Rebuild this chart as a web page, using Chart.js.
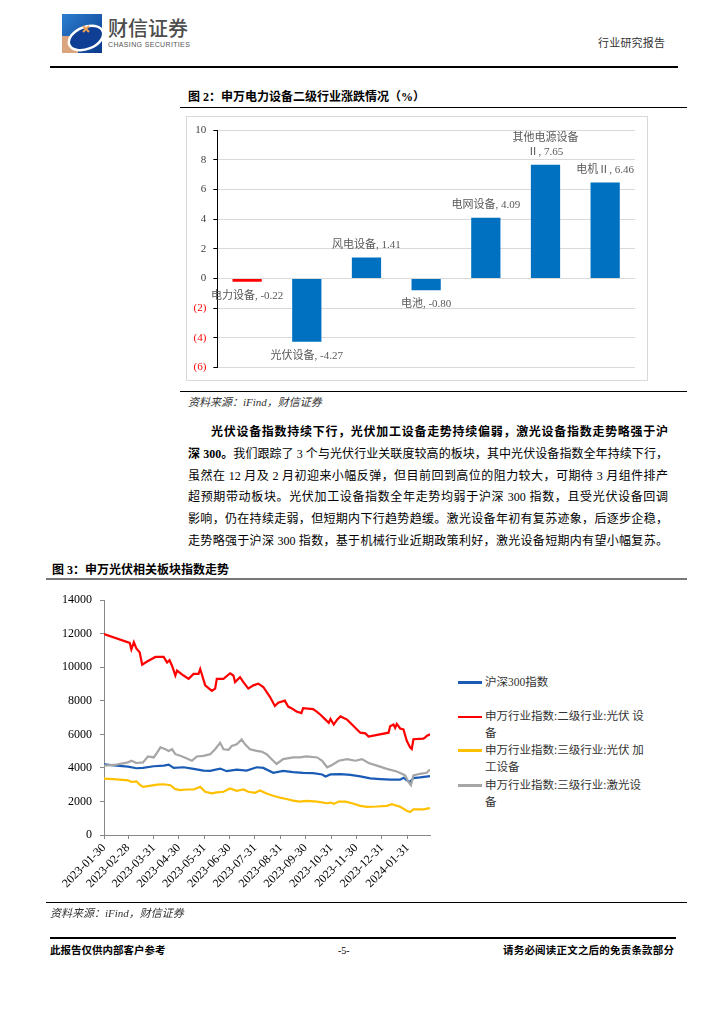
<!DOCTYPE html>
<html><head><meta charset="utf-8">
<script src="https://cdn.jsdelivr.net/npm/chart.js@4.4.1/dist/chart.umd.min.js"></script>
<style>
html,body{margin:0;padding:0;background:#fff;}
body{width:724px;height:1024px;position:relative;overflow:hidden;font-family:"Liberation Serif","Noto Sans CJK SC",serif;color:#000;}
.a{position:absolute;white-space:nowrap;}
.rule{position:absolute;height:0;}
.para{position:absolute;left:188px;width:480px;font-size:12px;line-height:21.9px;text-align:justify;text-align-last:justify;white-space:nowrap;}
.leg{position:absolute;left:458px;font-size:11.5px;line-height:17px;color:#333;}
.leg i{position:absolute;left:0;top:7.5px;width:24px;height:2.5px;}
.leg span{position:absolute;left:27px;top:0;white-space:nowrap;}
</style></head>
<body>
<!-- header -->
<svg class="a" style="left:62px;top:14px" width="40" height="39" viewBox="0 0 40 39">
<defs><linearGradient id="g" x1="0" y1="0" x2="1" y2="1"><stop offset="0" stop-color="#2c7ed0"/><stop offset="1" stop-color="#0c3a8c"/></linearGradient></defs>
<rect width="40" height="39" fill="url(#g)"/>
<rect x="0" y="22" width="16" height="17" fill="#d9a47e"/>
<ellipse cx="24" cy="24" rx="18" ry="11" transform="rotate(-22 24 24)" fill="#0f3f95" stroke="#fff" stroke-width="2.5"/>
<path d="M21 12 l6 6 M27 12 l-6 6" stroke="#f0a050" stroke-width="2"/>
</svg>
<div class="a" style="left:108px;top:15px;font-family:'Noto Sans CJK SC';font-size:20px;line-height:26px;color:#4d4d4d;font-weight:500">财信证券</div>
<div class="a" style="left:108px;top:40px;font-family:'Liberation Sans';font-size:7px;line-height:9px;color:#555;letter-spacing:0.35px">CHASING SECURITIES</div>
<div class="a" style="left:598px;top:35px;font-size:11px;line-height:16px;color:#333;letter-spacing:0.2px">行业研究报告</div>
<div class="rule" style="left:50px;width:628px;top:65.5px;border-top:2px solid #000"></div>

<!-- figure 2 -->
<div class="a" style="left:188px;top:89px;font-size:12px;line-height:16px;font-weight:700">图 2：申万电力设备二级行业涨跌情况（%）</div>
<div class="rule" style="left:180px;width:507px;top:107px;border-top:1.5px solid #000"></div>
<div class="a" style="left:186px;top:116px;width:460px;height:263px;border:1px solid #d9d9d9"></div>
<div class="a" style="left:186px;top:116px;width:462px;height:265px"><canvas id="bar"></canvas></div>
<div class="rule" style="left:180px;width:507px;top:391px;border-top:1px solid #000"></div>
<div class="a" style="left:188px;top:394px;font-size:11px;line-height:16px;font-style:italic;color:#333">资料来源：iFind，财信证券</div>

<!-- paragraph -->
<div class="para" style="top:421.7px;left:211px;width:457px;font-weight:700">光伏设备指数持续下行，光伏加工设备走势持续偏弱，激光设备指数走势略强于沪</div>
<div class="para" style="top:443.6px"><b>深 300。</b>我们跟踪了 3 个与光伏行业关联度较高的板块，其中光伏设备指数全年持续下行，</div>
<div class="para" style="top:465.5px">虽然在 12 月及 2 月初迎来小幅反弹，但目前回到高位的阻力较大，可期待 3 月组件排产</div>
<div class="para" style="top:487.4px">超预期带动板块。光伏加工设备指数全年走势均弱于沪深 300 指数，且受光伏设备回调</div>
<div class="para" style="top:509.3px">影响，仍在持续走弱，但短期内下行趋势趋缓。激光设备年初有复苏迹象，后逐步企稳，</div>
<div class="para" style="top:531.2px">走势略强于沪深 300 指数，基于机械行业近期政策利好，激光设备短期内有望小幅复苏。</div>

<!-- figure 3 -->
<div class="a" style="left:52px;top:562px;font-size:12px;line-height:16px;font-weight:700">图 3：申万光伏相关板块指数走势</div>
<div class="rule" style="left:46px;width:641px;top:578px;border-top:2px solid #777"></div>
<div class="a" style="left:40px;top:585px;width:400px;height:320px"><canvas id="line"></canvas></div>
<div class="leg" style="top:673.5px"><i style="background:#1a5bb5"></i><span>沪深300指数</span></div>
<div class="leg" style="top:708px"><i style="background:#ff0000"></i><span>申万行业指数:二级行业:光伏 设<br>备</span></div>
<div class="leg" style="top:741.5px"><i style="background:#ffc000"></i><span>申万行业指数:三级行业:光伏 加<br>工设备</span></div>
<div class="leg" style="top:776.5px"><i style="background:#a6a6a6"></i><span>申万行业指数:三级行业:激光设<br>备</span></div>
<div class="rule" style="left:46px;width:641px;top:901.5px;border-top:1.5px solid #000"></div>
<div class="a" style="left:50px;top:905px;font-size:11px;line-height:16px;font-style:italic;color:#333">资料来源：iFind，财信证券</div>

<!-- footer -->
<div class="rule" style="left:50px;width:626px;top:937px;border-top:2px solid #000"></div>
<div class="a" style="left:50px;top:944px;font-size:10.5px;line-height:14px;font-weight:700">此报告仅供内部客户参考</div>
<div class="a" style="left:338px;top:944px;font-size:10px;line-height:14px">-5-</div>
<div class="a" style="left:503px;top:944px;font-size:10.5px;line-height:14px;font-weight:700;letter-spacing:0.2px">请务必阅读正文之后的免责条款部分</div>

<script>
// ---- Figure 2 data ----
const barCategories = ['电力设备','光伏设备','风电设备','电池','电网设备','其他电源设备Ⅱ','电机Ⅱ'];
const barValues = [-0.22, -4.27, 1.41, -0.80, 4.09, 7.65, 6.46];
const barColors = ['#FF0000','#0070C0','#0070C0','#0070C0','#0070C0','#0070C0','#0070C0'];
const barAxisMin = -6, barAxisMax = 10, barAxisStep = 2;

// ---- Figure 3 data (day offset from 2023-01-30) ----
const xTickDays = [0,29,60,90,121,151,182,213,243,274,304,335,366];
const xTickLabels = ['2023-01-30','2023-02-28','2023-03-31','2023-04-30','2023-05-31','2023-06-30','2023-07-31','2023-08-31','2023-09-30','2023-10-31','2023-11-30','2023-12-31','2024-01-31'];
const lastDay = 393;
const seriesNames = ['沪深300指数','申万行业指数:二级行业:光伏设备','申万行业指数:三级行业:光伏加工设备','申万行业指数:三级行业:激光设备'];

const hs300Days = [0,15,29,39,47,60,72,78,84,96,108,120,128,140,148,160,172,184,192,204,216,228,240,252,263,267,273,285,297,309,321,333,345,357,361,365,369,373,381,393];
const hs300Vals = [4215,4137,4078,3980,4000,4098,4137,4195,4000,4039,3942,3844,3825,3961,3805,3903,3844,4039,4000,3708,3825,3747,3708,3688,3610,3493,3610,3630,3590,3493,3376,3337,3298,3298,3415,3259,3162,3396,3435,3513];

const pvDays = [0,31,33,36,39,43,46,52,62,72,76,79,82,86,88,96,102,108,114,116,122,130,134,136,144,152,156,158,164,168,174,180,186,192,196,200,206,210,218,222,226,232,238,240,252,256,261,267,271,273,277,281,285,289,293,299,305,309,315,319,343,345,349,351,353,357,361,365,369,371,373,385,387,389,393];
const pvVals = [11980,11455,11065,11500,11120,10890,10150,10345,10618,10618,10287,10423,10092,9508,9800,9508,9313,9605,9605,9897,8924,8593,8729,9313,9313,9644,9508,9118,9410,9118,8729,8924,9021,8826,8534,8242,7697,7892,8009,7658,7561,7366,7269,7561,7503,7366,7171,6879,6684,6918,6587,6879,7074,6977,6879,6587,6295,6100,6061,5866,6100,6490,6587,6392,6626,6353,6295,5613,5224,5127,5711,5750,5808,5905,6003];

const pvProcDays = [0,15,29,33,39,43,47,55,64,72,80,86,92,100,108,116,122,130,136,144,152,160,168,174,182,188,196,204,212,220,228,236,244,257,269,273,277,283,291,299,309,317,329,341,347,357,365,369,373,385,393];
const pvProcVals = [3357,3318,3259,3162,3201,3006,2870,2928,3006,3025,2967,2733,2674,2713,2713,2870,2577,2479,2538,2577,2772,2635,2713,2577,2518,2655,2479,2343,2226,2148,2050,1992,2031,1992,1894,1933,1855,1992,1992,1894,1738,1680,1699,1738,1836,1680,1446,1368,1524,1524,1602];

const laserDays = [0,15,29,33,39,47,53,60,64,68,74,78,82,86,92,100,106,112,120,128,134,140,144,150,154,160,166,170,176,184,190,196,204,208,216,228,236,244,257,263,269,275,283,293,303,311,319,329,341,353,359,363,367,370,373,381,389,393];
const laserVals = [4137,4195,4332,4429,4293,4332,4683,4624,4917,5229,5112,5014,5112,4819,4722,4566,4429,4683,4722,4819,5112,5502,5112,5073,5307,5404,5700,5404,5112,5014,4975,4819,4429,4234,4527,4624,4624,4683,4624,4429,4039,4176,4429,4527,4429,4527,4293,4137,3942,3786,3649,3552,3162,2967,3552,3649,3708,3903];

Chart.defaults.font.family = '"Liberation Serif","Noto Sans CJK SC",serif';
Chart.defaults.animation = false;

const barLabelPlugin = {
  id: 'barLabels',
  afterDatasetsDraw(chart) {
    const ctx = chart.ctx;
    const meta = chart.getDatasetMeta(0);
    ctx.save();
    ctx.font = '11px "Liberation Serif","Noto Sans CJK SC",serif';
    ctx.fillStyle = '#595959';
    ctx.textAlign = 'center';
    ctx.textBaseline = 'middle';
    meta.data.forEach((bar, i) => {
      const v = barValues[i];
      const name = barCategories[i];
      const valTxt = v.toFixed(2);
      const lines = name.length > 5 ? [name.slice(0, 6), name.slice(6) + ', ' + valTxt] : [name + ', ' + valTxt];
      const lh = 14.7;
      if (v >= 0) {
        lines.forEach((l, k) => ctx.fillText(l, bar.x, bar.y - 12.5 - (lines.length - 1 - k) * lh));
      } else {
        lines.forEach((l, k) => ctx.fillText(l, bar.x, bar.y + 14 + k * lh));
      }
    });
    ctx.restore();
  }
};

new Chart(document.getElementById('bar'), {
  type: 'bar',
  data: {
    labels: barCategories,
    datasets: [{ data: barValues, backgroundColor: barColors, borderWidth: 0, barPercentage: 1, categoryPercentage: 0.49 }]
  },
  options: {
    responsive: true, maintainAspectRatio: false,
    layout: { padding: { top: 14, right: 13, bottom: 13.3, left: 0 } },
    plugins: { legend: { display: false }, tooltip: { enabled: false } },
    scales: {
      x: { display: false },
      y: {
        min: barAxisMin, max: barAxisMax,
        afterFit: (s) => { s.width = 31.3; },
        ticks: {
          stepSize: barAxisStep, padding: 7,
          font: { size: 11 },
          color: (c) => (c.tick && c.tick.value < 0) ? '#FF0000' : '#404040',
          callback: (v) => v < 0 ? '(' + (-v) + ')' : String(v)
        },
        grid: { color: '#d9d9d9', tickColor: '#000', tickLength: 4, lineWidth: 1 },
        border: { color: '#000', width: 1 }
      }
    }
  },
  plugins: [barLabelPlugin]
});

function pts(days, vals) { return days.map((d, i) => ({ x: d, y: vals[i] })); }

new Chart(document.getElementById('line'), {
  type: 'line',
  data: {
    datasets: [
      { label: seriesNames[0], data: pts(hs300Days, hs300Vals), borderColor: '#1a5bb5', order: 3 },
      { label: seriesNames[1], data: pts(pvDays, pvVals), borderColor: '#ff0000', order: 2 },
      { label: seriesNames[2], data: pts(pvProcDays, pvProcVals), borderColor: '#ffc000', order: 1 },
      { label: seriesNames[3], data: pts(laserDays, laserVals), borderColor: '#a6a6a6', order: 0 }
    ].map(d => Object.assign(d, { borderWidth: 2.2, pointRadius: 0, tension: 0, fill: false }))
  },
  options: {
    responsive: true, maintainAspectRatio: false,
    layout: { padding: { top: 10, right: 10, left: 0, bottom: 0 } },
    plugins: { legend: { display: false }, tooltip: { enabled: false } },
    scales: {
      x: {
        type: 'linear', min: 0, max: lastDay,
        afterFit: (s) => { s.height = 70; },
        afterBuildTicks: (s) => { s.ticks = xTickDays.map(v => ({ value: v })); },
        ticks: {
          autoSkip: false, minRotation: 45, maxRotation: 45, padding: 2,
          font: { size: 12 }, color: '#000',
          callback: (v) => { const i = xTickDays.indexOf(v); return i >= 0 ? xTickLabels[i] : ''; }
        },
        grid: { drawOnChartArea: false, tickLength: 4, color: '#888', tickColor: '#888' },
        border: { color: '#888', width: 1 }
      },
      y: {
        min: 0, max: 14000,
        afterFit: (s) => { s.width = 64; },
        ticks: { stepSize: 2000, padding: 8, font: { size: 12 }, color: '#000', callback: (v) => String(v) },
        grid: { drawOnChartArea: false, tickLength: 4, color: '#888', tickColor: '#888' },
        border: { color: '#888', width: 1 }
      }
    }
  }
});
</script>
</body></html>
